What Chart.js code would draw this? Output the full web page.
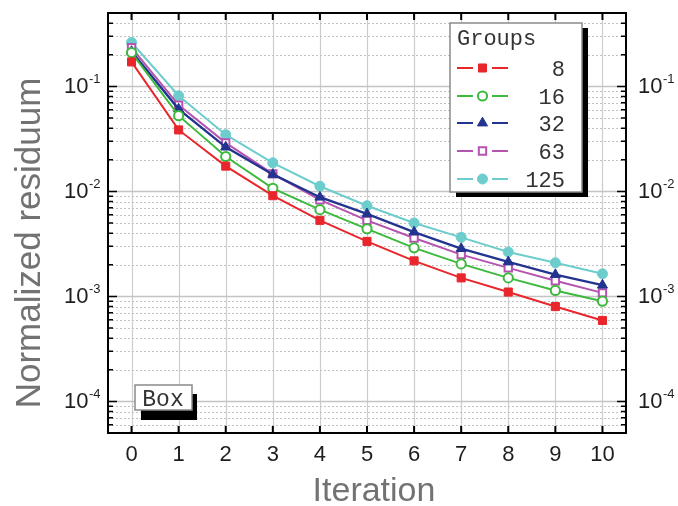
<!DOCTYPE html>
<html>
<head>
<meta charset="utf-8">
<script src="https://cdn.jsdelivr.net/npm/chart.js@4.4.0/dist/chart.umd.min.js"></script>
<style>
  html, body { margin: 0; padding: 0; background: #fff; }
  #wrap { width: 678px; height: 506px; }
</style>
</head>
<body>
<div id="wrap"><canvas id="chart" width="678" height="506"></canvas></div>
<script>
// data
const iterations = [0, 1, 2, 3, 4, 5, 6, 7, 8, 9, 10];
const groupLabels = ['8', '16', '32', '63', '125'];
const g8   = [0.171, 0.0385, 0.0174, 0.0091, 0.0053, 0.00334, 0.00218, 0.0015, 0.0011, 0.0008, 0.00059];
const g16  = [0.210, 0.0526, 0.0215, 0.0107, 0.0067, 0.0044, 0.0029, 0.00204, 0.0015, 0.00114, 0.0009];
const g32  = [0.215, 0.0608, 0.0264, 0.0145, 0.0088, 0.0061, 0.0041, 0.00285, 0.00213, 0.00161, 0.00128];
const g63  = [0.234, 0.0664, 0.029, 0.0147, 0.0083, 0.0053, 0.0036, 0.0025, 0.00187, 0.00141, 0.00108];
const g125 = [0.262, 0.0814, 0.0347, 0.0187, 0.0112, 0.0073, 0.005, 0.00365, 0.00265, 0.00209, 0.00164];
const decadeTicks = [1e-4, 1e-3, 1e-2, 1e-1];
const decadeExps = ['-4', '-3', '-2', '-1'];

const series = [g8, g16, g32, g63, g125];
const colors = ['#e8262b', '#3dba3d', '#22348f', '#b553b0', '#6dcdcd'];
const styles = ['rect', 'circle', 'triangle', 'rect', 'circle'];
const filled = [true, false, true, false, true];
const radii = [5.7, 4.6, 5.8, 5.2, 5];
const widths = [2, 2, 2.4, 2, 2];

const datasets = series.map((vals, k) => ({
  label: groupLabels[k],
  data: iterations.map((it, i) => ({ x: it, y: vals[i] })),
  borderColor: colors[k],
  borderWidth: widths[k],
  pointStyle: styles[k],
  pointRadius: radii[k],
  pointBackgroundColor: filled[k] ? colors[k] : '#fff',
  pointBorderColor: colors[k],
  pointBorderWidth: filled[k] ? 1 : 2,
  tension: 0
}));

const sans = '"Liberation Sans", Arial, sans-serif';
const mono = '"Liberation Mono", "Courier New", monospace';

function drawPow(ctx, x, py, exp, align) {
  ctx.font = '22px ' + sans;
  const w = ctx.measureText('10').width;
  ctx.font = '13px ' + sans;
  const ws = ctx.measureText(exp).width;
  const x0 = align === 'right' ? x - w - ws : x;
  ctx.textAlign = 'left';
  ctx.textBaseline = 'alphabetic';
  ctx.font = '22px ' + sans;
  ctx.fillText('10', x0, py + 7);
  ctx.font = '13px ' + sans;
  ctx.fillText(exp, x0 + w + 0.5, py - 3);
}

const framePlugin = {
  id: 'frame',
  beforeDatasetsDraw(chart) {
    const { ctx, chartArea: a, scales: { x, y } } = chart;
    ctx.save();
    // vertical grid
    ctx.strokeStyle = '#cdcdcd';
    ctx.lineWidth = 1.2;
    iterations.forEach(v => {
      const px = Math.round(x.getPixelForValue(v)) + 0.5;
      ctx.beginPath(); ctx.moveTo(px, a.top); ctx.lineTo(px, a.bottom); ctx.stroke();
    });
    // minor horizontal dotted grid
    ctx.strokeStyle = '#c2c2c2';
    ctx.lineWidth = 1;
    ctx.setLineDash([2, 2]);
    for (let e = -5; e <= -1; e++) {
      for (let m = 2; m <= 9; m++) {
        const v = m * Math.pow(10, e);
        if (v <= y.min || v >= y.max) continue;
        const py = Math.round(y.getPixelForValue(v)) + 0.5;
        ctx.beginPath(); ctx.moveTo(a.left, py); ctx.lineTo(a.right, py); ctx.stroke();
      }
    }
    ctx.setLineDash([]);
    // major horizontal grid
    ctx.strokeStyle = '#c4c4c4';
    ctx.lineWidth = 1.5;
    decadeTicks.forEach(v => {
      const py = y.getPixelForValue(v);
      ctx.beginPath(); ctx.moveTo(a.left, py); ctx.lineTo(a.right, py); ctx.stroke();
    });
    ctx.restore();
  },
  afterDatasetsDraw(chart) {
    const { ctx, chartArea: a, scales: { x, y } } = chart;
    ctx.save();
    // axis frame
    ctx.strokeStyle = '#000';
    ctx.lineWidth = 2;
    ctx.strokeRect(a.left, a.top, a.right - a.left, a.bottom - a.top);

    // y ticks, both sides
    ctx.lineWidth = 1.5;
    for (let e = -5; e <= -1; e++) {
      for (let m = 1; m <= 9; m++) {
        const v = m * Math.pow(10, e);
        if (v <= y.min || v >= y.max) continue;
        const len = m === 1 ? 9 : 5;
        const py = y.getPixelForValue(v);
        ctx.beginPath();
        ctx.moveTo(a.left, py); ctx.lineTo(a.left + len, py);
        ctx.moveTo(a.right, py); ctx.lineTo(a.right - len, py);
        ctx.stroke();
      }
    }
    // x ticks, top and bottom
    ctx.lineWidth = 2;
    iterations.forEach(v => {
      const px = x.getPixelForValue(v);
      ctx.beginPath();
      ctx.moveTo(px, a.top); ctx.lineTo(px, a.top + 7);
      ctx.moveTo(px, a.bottom); ctx.lineTo(px, a.bottom - 7);
      ctx.stroke();
    });

    // tick labels
    ctx.fillStyle = '#1e1e1e';
    decadeTicks.forEach((v, i) => {
      const py = y.getPixelForValue(v);
      drawPow(ctx, 100, py, decadeExps[i], 'right');
      drawPow(ctx, 638, py, decadeExps[i], 'left');
    });
    ctx.font = '22px ' + sans;
    ctx.textAlign = 'center';
    ctx.textBaseline = 'alphabetic';
    iterations.forEach(v => {
      ctx.fillText(String(v), x.getPixelForValue(v), 461);
    });

    // axis titles
    ctx.fillStyle = '#727272';
    ctx.font = '34px ' + sans;
    ctx.fillText('Iteration', 374, 501);
    ctx.save();
    ctx.translate(40, 243);
    ctx.rotate(-Math.PI / 2);
    ctx.font = '35px ' + sans;
    ctx.fillText('Normalized residuum', 0, 0);
    ctx.restore();

    // legend box
    ctx.fillStyle = '#000';
    ctx.fillRect(456, 28, 132, 169);
    ctx.fillStyle = '#fff';
    ctx.fillRect(450, 23, 132, 169);
    ctx.strokeStyle = '#8a8a8a';
    ctx.lineWidth = 1.5;
    ctx.strokeRect(450, 23, 132, 169);
    ctx.fillStyle = '#333';
    ctx.font = '22px ' + mono;
    ctx.textAlign = 'left';
    ctx.fillText('Groups', 457, 45);
    const rows = [68, 96, 123, 151, 179];
    rows.forEach((ry, k) => {
      ctx.strokeStyle = colors[k];
      ctx.lineWidth = 2;
      ctx.beginPath();
      ctx.moveTo(457, ry); ctx.lineTo(473, ry);
      ctx.moveTo(492, ry); ctx.lineTo(508, ry);
      ctx.stroke();
      ctx.fillStyle = filled[k] ? colors[k] : '#fff';
      ctx.lineWidth = filled[k] ? 1 : 2;
      Chart.helpers.drawPoint(ctx, {
        pointStyle: styles[k], radius: radii[k], rotation: 0,
        borderWidth: filled[k] ? 1 : 2
      }, 482.5, ry);
      ctx.fillStyle = '#333';
      ctx.font = '22px ' + mono;
      ctx.textAlign = 'right';
      ctx.fillText(groupLabels[k], 565, ry + 8);
    });

    // "Box" tag
    ctx.fillStyle = '#000';
    ctx.fillRect(141, 394, 56, 26);
    ctx.fillStyle = '#fff';
    ctx.fillRect(135, 385, 57, 25);
    ctx.strokeStyle = '#8a8a8a';
    ctx.lineWidth = 1.5;
    ctx.strokeRect(135, 385, 57, 25);
    ctx.fillStyle = '#333';
    ctx.font = '23px ' + mono;
    ctx.textAlign = 'center';
    ctx.fillText('Box', 163, 406);
    ctx.restore();
  }
};

new Chart(document.getElementById('chart'), {
  type: 'line',
  data: { datasets },
  options: {
    responsive: false,
    animation: false,
    layout: { padding: { left: 108, right: 52, top: 13, bottom: 73 } },
    plugins: { legend: { display: false }, tooltip: { enabled: false } },
    scales: {
      x: {
        type: 'linear', min: -0.5, max: 10.5,
        ticks: { display: false },
        grid: { display: false, drawTicks: false },
        border: { display: false }
      },
      y: {
        type: 'logarithmic', min: 5e-5, max: 0.5,
        ticks: { display: false },
        grid: { display: false, drawTicks: false },
        border: { display: false }
      }
    }
  },
  plugins: [framePlugin]
});
</script>
</body>
</html>
